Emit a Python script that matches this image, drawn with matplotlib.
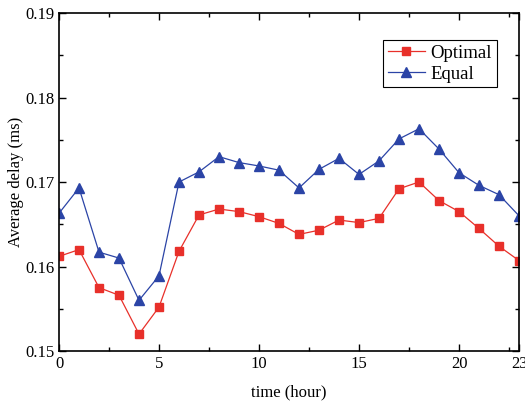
import matplotlib.pyplot as plt

hours = list(range(24))
optimal = [0.1612, 0.1620, 0.1575, 0.1566, 0.1520, 0.1552, 0.1618, 0.1661,
           0.1668, 0.1665, 0.1659, 0.1651, 0.1638, 0.1643, 0.1655, 0.1652,
           0.1657, 0.1692, 0.1700, 0.1678, 0.1665, 0.1645, 0.1624, 0.1607]
equal = [0.1663, 0.1693, 0.1617, 0.1610, 0.1560, 0.1589, 0.1700, 0.1712,
         0.1730, 0.1723, 0.1719, 0.1714, 0.1693, 0.1715, 0.1728, 0.1709,
         0.1725, 0.1751, 0.1763, 0.1739, 0.1711, 0.1696, 0.1685, 0.1660]
xticks = [0, 5, 10, 15, 20, 23]
yticks = [0.15, 0.16, 0.17, 0.18, 0.19]

plt.rcParams['font.family'] = ['Liberation Serif', 'DejaVu Serif']

fig = plt.figure(figsize=(5.25, 4.03), dpi=100)
ax = fig.add_axes([0.1124, 0.129, 0.8762, 0.8387])

ax.plot(hours, optimal, color='#e8302a', marker='s', markersize=6.3, lw=0.9,
        label='Optimal')
ax.plot(hours, equal, color='#2b44a6', marker='^', markersize=7.3, lw=0.9,
        label='Equal')

ax.set_xlim(0, 23)
ax.set_ylim(0.15, 0.19)
ax.set_xticks(xticks)
ax.set_xticks([2.5, 7.5, 12.5, 17.5, 22.5], minor=True)
ax.set_yticks(yticks)
ax.set_yticks([0.155, 0.165, 0.175, 0.185], minor=True)
ax.set_yticklabels(['%.2f' % v for v in yticks])
ax.tick_params(which='both', direction='in', top=True, right=True,
               labelsize=12, width=1)
ax.tick_params(which='major', length=5)
ax.tick_params(which='minor', length=3)
for s in ax.spines.values():
    s.set_linewidth(1.2)

ax.set_xlabel('time (hour)', fontsize=12, labelpad=9)
ax.set_ylabel('Average delay (ms)', fontsize=12, labelpad=1)

leg = ax.legend(loc='upper right', bbox_to_anchor=(0.952, 0.92), fontsize=13.5,
                fancybox=False, edgecolor='black', framealpha=1,
                handlelength=2.0, borderpad=0.25, labelspacing=0.2,
                handletextpad=0.3, borderaxespad=0)
leg.get_frame().set_linewidth(0.8)

fig.savefig('out.png', dpi=100)
